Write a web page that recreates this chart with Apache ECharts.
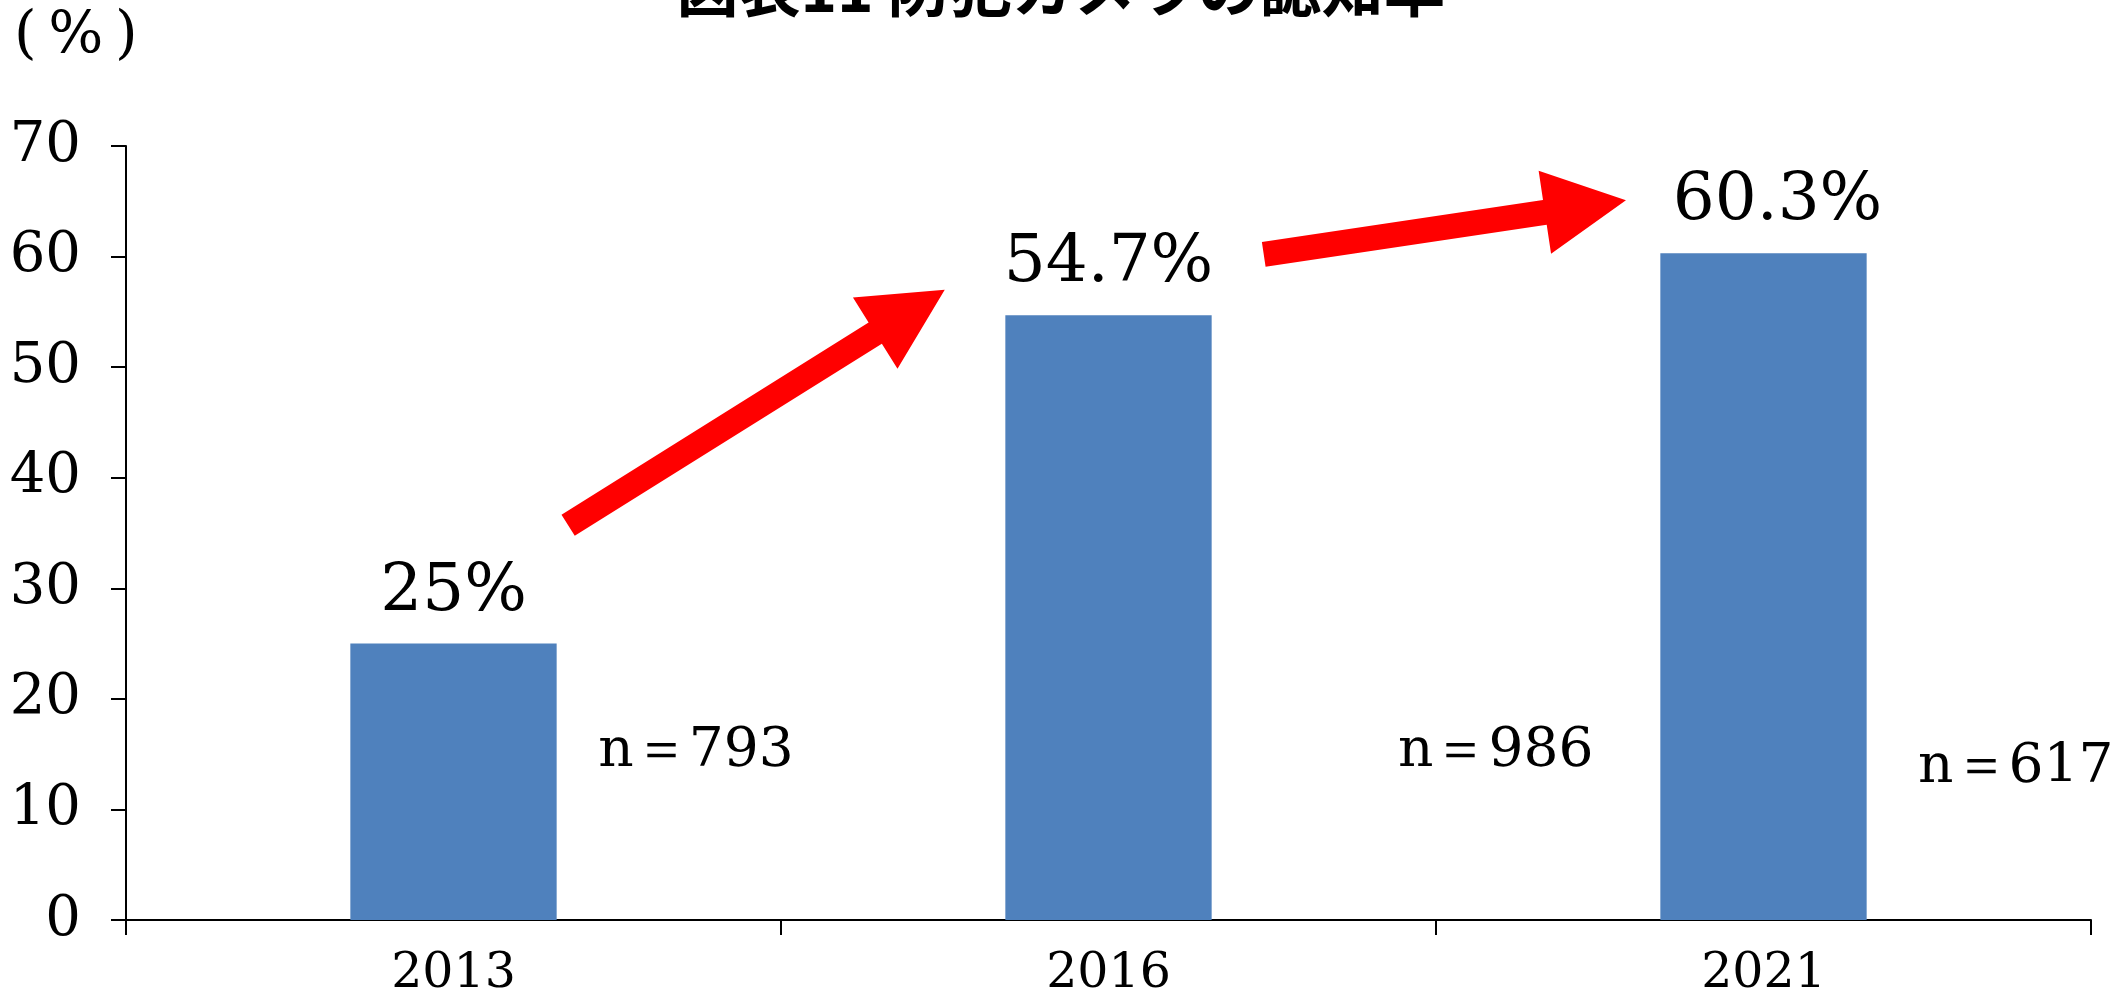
<!DOCTYPE html>
<html>
<head>
<meta charset="utf-8">
<script src="https://cdn.jsdelivr.net/npm/echarts@6/dist/echarts.min.js"></script>
<style>
  html, body { margin: 0; padding: 0; background: #fff; }
  #chart { width: 2122px; height: 1003px; }
</style>
</head>
<body>
<div id="chart"></div>
<script>
// data
const years = ['2013', '2016', '2021']
const rates = [25, 54.7, 60.3]
const rateLabels = ['25%', '54.7%', '60.3%']
const sampleSizes = [793, 986, 617]

const SERIF = "'DejaVu Serif', 'Liberation Serif', serif"
const chart = echarts.init(document.getElementById('chart'))

// the last value label sits a little right of its bar in the original
const labelShift = [0, 0, 14]

chart.setOption({
  animation: false,
  backgroundColor: '#fff',
  title: {
    text: '図表11 防犯カメラの認知率',
    left: 'center',
    top: -48,
    textStyle: { fontFamily: "'Noto Sans CJK JP', sans-serif", fontWeight: 'bold', fontSize: 62, color: '#000' },
  },
  grid: { left: 126, right: 31, top: 146, bottom: 83, containLabel: false },
  xAxis: {
    type: 'category',
    data: years,
    axisLine: { lineStyle: { color: '#000', width: 2 } },
    axisTick: { show: true, length: 15, lineStyle: { color: '#000', width: 2 } },
    axisLabel: { margin: 30, fontFamily: SERIF, fontSize: 49, color: '#000' },
  },
  yAxis: {
    type: 'value',
    min: 0,
    max: 70,
    interval: 10,
    axisLine: { show: true, lineStyle: { color: '#000', width: 2 } },
    axisTick: { show: true, length: 15, lineStyle: { color: '#000', width: 2 } },
    axisLabel: { margin: 45, fontFamily: SERIF, fontSize: 56, color: '#000' },
    splitLine: { show: false },
  },
  series: [
    {
      name: '認知率',
      type: 'bar',
      data: rates.map((v, i) => ({ value: v, label: { offset: [labelShift[i], 0] } })),
      barWidth: '31.5%',
      itemStyle: { color: '#4F81BD' },
      label: {
        show: true,
        position: 'top',
        distance: 18,
        fontFamily: SERIF,
        fontSize: 66,
        color: '#000',
        formatter: p => rateLabels[p.dataIndex],
      },
    },
  ],
})

// category position (fractional, 0 = first bar centre) + value -> pixel
const toPx = (pos, value) => {
  const a = chart.convertToPixel({ gridIndex: 0 }, [0, value])
  const b = chart.convertToPixel({ gridIndex: 0 }, [1, value])
  return [a[0] + (b[0] - a[0]) * pos, a[1]]
}

const arrowPoints = (tail, tip, shaft, headLen, headHalf) => {
  const dx = tip[0] - tail[0], dy = tip[1] - tail[1]
  const len = Math.hypot(dx, dy)
  const ux = dx / len, uy = dy / len
  const nx = -uy, ny = ux
  const bx = tip[0] - ux * headLen, by = tip[1] - uy * headLen
  const s = shaft / 2
  return [
    [tail[0] + nx * s, tail[1] + ny * s],
    [bx + nx * s, by + ny * s],
    [bx + nx * headHalf, by + ny * headHalf],
    tip,
    [bx - nx * headHalf, by - ny * headHalf],
    [bx - nx * s, by - ny * s],
    [tail[0] - nx * s, tail[1] - ny * s],
  ]
}

// where the n= notes and the trend arrows sit
const nLabelAnchors = [[0.221, 15.2], [1.442, 15.2], [2.236, 13.8]]
const arrowAnchors = [
  { from: [0.175, 35.7], to: [0.75, 57.0] },
  { from: [1.237, 60.2], to: [1.79, 65.1] },
]

const graphics = []
graphics.push({
  type: 'text',
  left: 14,
  top: 8,
  style: { text: '(\u2009%\u2009)', fontFamily: SERIF, fontSize: 58, fill: '#000' },
})

nLabelAnchors.forEach(([pos, v], i) => {
  const [x, y] = toPx(pos, v)
  graphics.push({
    type: 'text',
    x, y,
    style: {
      text: 'n＝' + sampleSizes[i],
      fontFamily: SERIF,
      fontSize: 55,
      fill: '#000',
      textAlign: 'left',
      textVerticalAlign: 'middle',
    },
  })
})

arrowAnchors.forEach(a => {
  const tail = toPx(a.from[0], a.from[1])
  const tip = toPx(a.to[0], a.to[1])
  graphics.push({
    type: 'polygon',
    shape: { points: arrowPoints(tail, tip, 25, 82, 42) },
    style: { fill: '#FF0000' },
  })
})

chart.setOption({ graphic: graphics })
</script>
</body>
</html>
